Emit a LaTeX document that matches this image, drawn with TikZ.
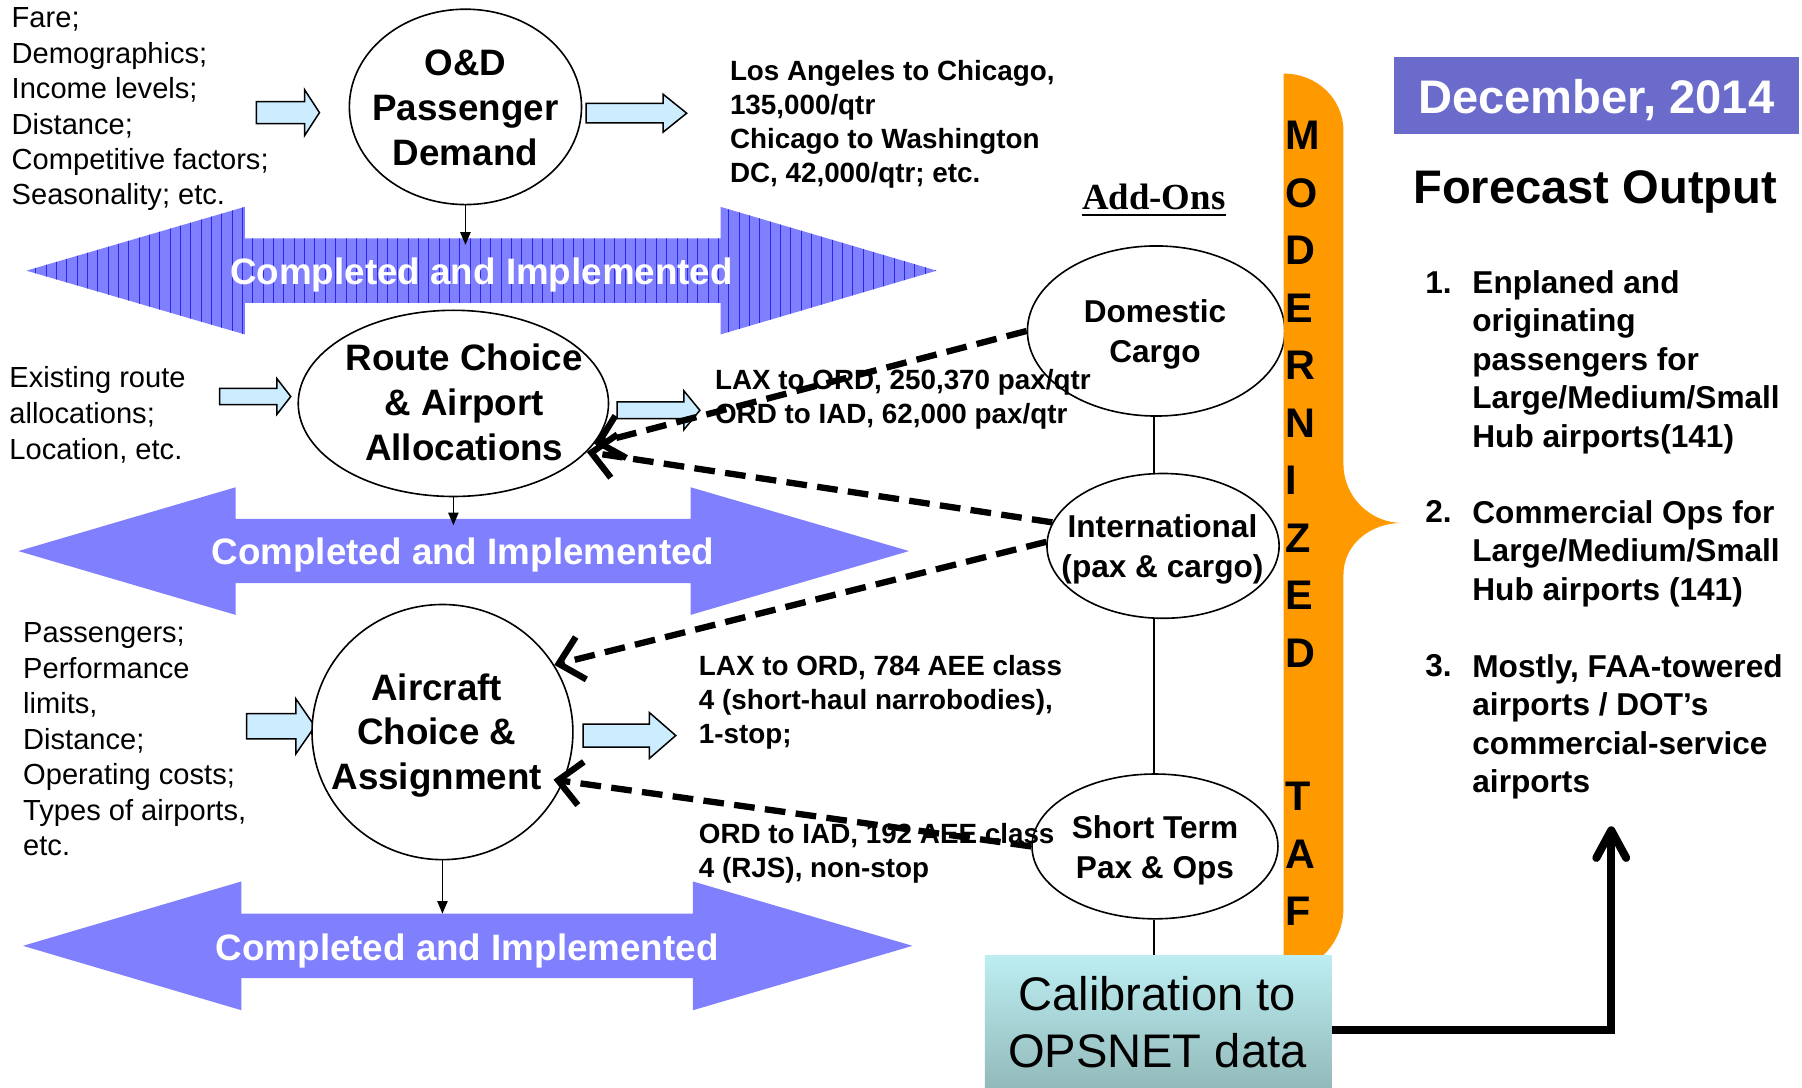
\documentclass[tikz,border=0pt]{standalone}
\usepackage{fontspec}
\setmainfont{Liberation Sans}
\newfontfamily\timesfont{Liberation Serif}
\usetikzlibrary{arrows.meta,shapes.geometric}

\definecolor{bandblue}{RGB}{128,128,255}
\definecolor{stripeblue}{RGB}{40,40,230}
\definecolor{datebox}{RGB}{107,107,204}
\definecolor{bracefill}{RGB}{255,153,0}
\definecolor{inputblue}{RGB}{204,236,255}
\definecolor{caltop}{RGB}{189,238,242}
\definecolor{calbot}{RGB}{141,179,179}

\newcommand\fsz[2]{\fontsize{#1}{#2}\selectfont}

% light-blue block arrow: tail x, head-base x, tip x, centre y, half shaft, half head
\newcommand\inputarrow[6]{%
  \filldraw[inarrow] (#1,#4-#5) -- (#2,#4-#5) -- (#2,#4-#6) -- (#3,#4)
    -- (#2,#4+#6) -- (#2,#4+#5) -- (#1,#4+#5) -- cycle;}

\tikzset{
  bubble/.style={ellipse, draw=black, line width=1.4pt, fill=white, inner sep=0pt},
  bubbletext/.style={font=\bfseries\fsz{32}{39}, align=center, inner sep=0pt},
  addontext/.style={font=\bfseries\fsz{27.5}{34.5}, align=center, inner sep=0pt},
  factors/.style={font=\fsz{25.3}{30.8}, align=left, inner sep=0pt, anchor=north west},
  example/.style={font=\bfseries\fsz{24.2}{29.5}, align=left, inner sep=0pt, anchor=north west},
  bandlabel/.style={font=\bfseries\fsz{32}{39}, text=white, inner sep=0pt, text depth=0pt},
  inarrow/.style={fill=inputblue, draw=black, line width=1.3pt, line join=miter},
  feed/.style={line width=1.2pt, -{Triangle[length=11pt,width=9pt]}},
  link/.style={line width=1.8pt},
  addon/.style={line width=5.5pt, dash pattern=on 18pt off 9pt,
    -{Straight Barb[length=20pt,width=38pt]}},
  result/.style={line width=7pt, -{Straight Barb[length=24pt,width=26pt,round]}},
  listtext/.style={font=\bfseries\fsz{27.5}{33.4}, align=left, inner sep=0pt, anchor=north west},
  listnum/.style={font=\bfseries\fsz{27.5}{33.4}, inner sep=0pt, anchor=base west},
  tafletters/.style={font=\bfseries\fsz{36}{50}, align=left, inner sep=0pt, anchor=west},
}

\begin{document}
\begin{tikzpicture}[x=1pt,y=-1pt]
\useasboundingbox (0,0) rectangle (1568,946);
\fill[white] (0,0) rectangle (1568,946);

% ---- "Completed and Implemented" bands ----
\begin{scope}
  \clip (23,235.5) -- (213,180) -- (213,207.5) -- (627,207.5) -- (627,180) -- (815,235.5)
    -- (627,291) -- (627,263.5) -- (213,263.5) -- (213,291) -- cycle;
  \fill[bandblue] (0,170) rectangle (830,300);
  \foreach \x in {22,31,...,815}
    \draw[stripeblue, line width=0.7pt] (\x,170) -- (\x,300);
\end{scope}
\fill[bandblue] (16,479.5) -- (205,424) -- (205,451.5) -- (601,451.5) -- (601,424) -- (791,479.5)
  -- (601,535) -- (601,507.5) -- (205,507.5) -- (205,535) -- cycle;
\fill[bandblue] (20,823) -- (210,767) -- (210,795) -- (603,795) -- (603,767) -- (794,823)
  -- (603,879) -- (603,851) -- (210,851) -- (210,879) -- cycle;
\node[bandlabel] (band1) at (419,236) {Completed and Implemented};
\node[bandlabel] (band2) at (403,480) {Completed and Implemented};
\node[bandlabel] (band3) at (406.5,824) {Completed and Implemented};

% ---- input / output block arrows ----
\inputarrow{223}{265}{278}{98}{9.5}{20}
\inputarrow{510}{577}{597.5}{98.5}{8.5}{16.5}
\inputarrow{191}{241}{253}{345}{7}{15.5}
\inputarrow{537}{595}{609}{357}{7.3}{17}
\inputarrow{214.6}{257.4}{274}{632}{11}{24}
\inputarrow{507.4}{565}{588}{640}{10}{20}

% ---- model stages ----
\node[bubble, minimum width=202pt, minimum height=170pt] (od) at (405,93) {};
\node[bubbletext] (odtext) at (405,94) {O\&D\\Passenger\\Demand};
\node[bubble, minimum width=270pt, minimum height=162pt] (rc) at (394.5,351) {};
\node[bubbletext] (rctext) at (404,350) {Route Choice\\\& Airport\\Allocations};
\node[bubble, minimum width=227pt, minimum height=222pt] (ac) at (385,637) {};
\node[bubbletext] (actext) at (380,640) {Aircraft\\Choice \&\\Assignment};

% ---- add-on modules ----
\node[font=\timesfont\bfseries\fsz{32}{38}, inner sep=0pt, anchor=base, text depth=0pt]
  (addons) at (1004,182.5) {Add-Ons};
\draw[line width=2.4pt] ([yshift=-4.5pt]addons.base west) -- ([yshift=-4.5pt]addons.base east);
\node[bubble, minimum width=224pt, minimum height=148pt] (dc) at (1006,288) {};
\node[addontext] (dctext) at (1005,291) {Domestic\\Cargo};
\node[bubble, minimum width=202pt, minimum height=126pt] (ic) at (1012,475) {};
\node[addontext] (ictext) at (1011.5,478) {International\\(pax \& cargo)};
\node[bubble, minimum width=214pt, minimum height=126pt] (sc) at (1005,736.5) {};
\node[addontext] (sctext) at (1005,740) {Short Term\\Pax \& Ops};

% ---- factor lists and examples ----
\node[factors] (f1) at (10,6.6)
  {Fare;\\Demographics;\\Income levels;\\Distance;\\Competitive factors;\\Seasonality; etc.};
\node[factors, font=\fsz{25.3}{31.2}] (f2) at (8,318.5)
  {Existing route\\allocations;\\Location, etc.};
\node[factors, font=\fsz{25.3}{30.9}] (f3) at (20,541.7)
  {Passengers;\\Performance\\limits,\\Distance;\\Operating costs;\\Types of airports,\\etc.};
\node[example] (e1) at (635,52.4)
  {Los Angeles to Chicago,\\135,000/qtr\\Chicago to Washington\\DC, 42,000/qtr; etc.};
\node[example] (e2) at (622,321.4) {LAX to ORD, 250,370 pax/qtr\\ORD to IAD, 62,000 pax/qtr};
\node[example] (e3) at (608,570.4) {LAX to ORD, 784 AEE class\\4 (short-haul narrobodies),\\1-stop;};
\node[example] (e4) at (608,716.4) {ORD to IAD, 192 AEE class\\4 (RJS), non-stop};

% ---- Modernized TAF brace ----
\fill[bracefill] (1117,64) .. controls (1146,64) and (1169,86) .. (1169,114) -- (1169,404)
  .. controls (1169,432) and (1192,455) .. (1220,455)
  .. controls (1192,455) and (1169,474) .. (1169,500) -- (1169,790)
  .. controls (1169,820) and (1146,845) .. (1117,845) -- cycle;
\node[tafletters] (modern) at (1118,343) {M\\O\\D\\E\\R\\N\\I\\Z\\E\\D};
\node[tafletters] (taf) at (1118,743) {T\\A\\F};

% ---- forecast output panel ----
\node[fill=datebox, minimum width=352pt, minimum height=67pt, inner sep=0pt, text=white,
  font=\bfseries\fsz{41}{48}, text depth=0pt] (date) at (1389,83.5) {December, 2014};
\node[font=\bfseries\fsz{41}{48}, inner sep=0pt, text depth=0pt] (fo) at (1388,163) {Forecast Output};
\node[listnum] (n1) at (1240,255) {1.};
\node[listtext] (l1) at (1281,235.3)
  {Enplaned and\\originating\\passengers for\\Large/Medium/Small\\Hub airports(141)};
\node[listnum] (n2) at (1240,455) {2.};
\node[listtext] (l2) at (1281,435.3) {Commercial Ops for\\Large/Medium/Small\\Hub airports (141)};
\node[listnum] (n3) at (1240,589) {3.};
\node[listtext] (l3) at (1281,569.3)
  {Mostly, FAA-towered\\airports / DOT’s\\commercial-service\\airports};

% ---- calibration ----
\node[top color=caltop, bottom color=calbot, minimum width=302pt, minimum height=130pt,
  inner sep=0pt] (cal) at (1008,896) {};
\node[font=\fsz{41}{50}, align=center, inner sep=0pt] (caltext) at (1007,889.3)
  {Calibration to\\OPSNET data};

% ---- connectors ----
\coordinate (band1top) at (405,213);
\coordinate (band2top) at (394.5,457);
\coordinate (band3top) at (385,795);
\coordinate (spine) at (1004,0);
\coordinate (outtip) at (1402,719);
\draw[feed] (od.south) -- (band1top);
\draw[feed] (rc.south) -- (band2top);
\draw[feed] (ac.south) -- (band3top);
\draw[link] (dc.south -| spine) -- (ic.north -| spine);
\draw[link] (ic.south -| spine) -- (sc.north -| spine);
\draw[link] (sc.south -| spine) -- (cal.north -| spine);
\draw[addon] (dc.west) -- (rc.-16);
\draw[addon] (ic.168) -- (rc.-20);
\draw[addon] (ic.178) -- (ac.31.5);
\draw[addon, shorten >=-9pt] (sc.west) -- (ac.-22);
\draw[result] (cal.east) -| (outtip);
\end{tikzpicture}
\end{document}
